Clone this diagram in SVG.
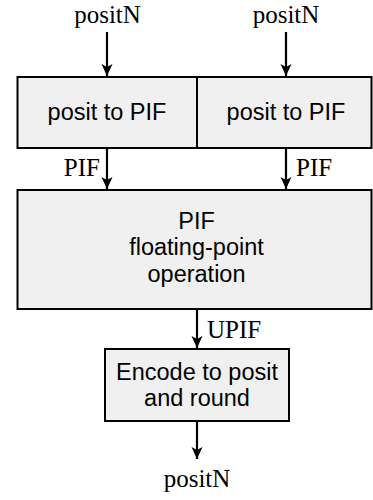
<svg xmlns="http://www.w3.org/2000/svg" width="373" height="500" viewBox="0 0 373 500">
<style>
.box{fill:#f0f0f0;stroke:#000;stroke-width:2}
.sans{font-family:"Liberation Sans",Arial,sans-serif;font-size:23.5px;fill:#000;text-anchor:middle}
.serif{font-family:"Liberation Serif","Times New Roman",serif;font-size:25px;fill:#000}
.arr{stroke:#000;stroke-width:2.2;fill:none;marker-end:url(#ah)}
</style>
<defs>
<marker id="ah" markerUnits="userSpaceOnUse" markerWidth="14" markerHeight="12" viewBox="-13 -6 14 12" refX="0" refY="0" orient="auto">
<path d="M0,0 L-12,-5.5 L-9,0 L-12,5.5 Z" fill="#000"/>
</marker>
</defs>
<rect width="373" height="500" fill="#fff"/>
<g id="connectors">
<line class="arr" x1="107" y1="32" x2="107" y2="76"/>
<line class="arr" x1="286" y1="32" x2="286" y2="76"/>
<line class="arr" x1="107" y1="148" x2="107" y2="189"/>
<line class="arr" x1="286" y1="148" x2="286" y2="189"/>
<line class="arr" x1="197" y1="309" x2="197" y2="348"/>
<line class="arr" x1="197" y1="421" x2="197" y2="459"/>
</g>
<g id="labels">
<text class="serif" x="107.5" y="22.5" text-anchor="middle">positN</text>
<text class="serif" x="286" y="22.5" text-anchor="middle">positN</text>
<text class="serif" x="100" y="176" text-anchor="end">PIF</text>
<text class="serif" x="296" y="176">PIF</text>
<text class="serif" x="207" y="338">UPIF</text>
<text class="serif" x="197" y="487" text-anchor="middle">positN</text>
</g>
<g id="n-posit2pif-left">
<rect class="box" x="17.5" y="77" width="179.5" height="71"/>
<text class="sans" x="107" y="120">posit to PIF</text>
</g>
<g id="n-posit2pif-right">
<rect class="box" x="197" y="77" width="174.5" height="71"/>
<text class="sans" x="286" y="120">posit to PIF</text>
</g>
<g id="n-pif-op">
<rect class="box" x="17.5" y="190" width="354" height="119"/>
<text class="sans" x="196.5" y="228.5">PIF</text>
<text class="sans" x="196.5" y="255">floating-point</text>
<text class="sans" x="196.5" y="281.5">operation</text>
</g>
<g id="n-encode">
<rect class="box" x="105" y="349" width="184" height="72"/>
<text class="sans" x="197" y="380">Encode to posit</text>
<text class="sans" x="197" y="406">and round</text>
</g>
</svg>
